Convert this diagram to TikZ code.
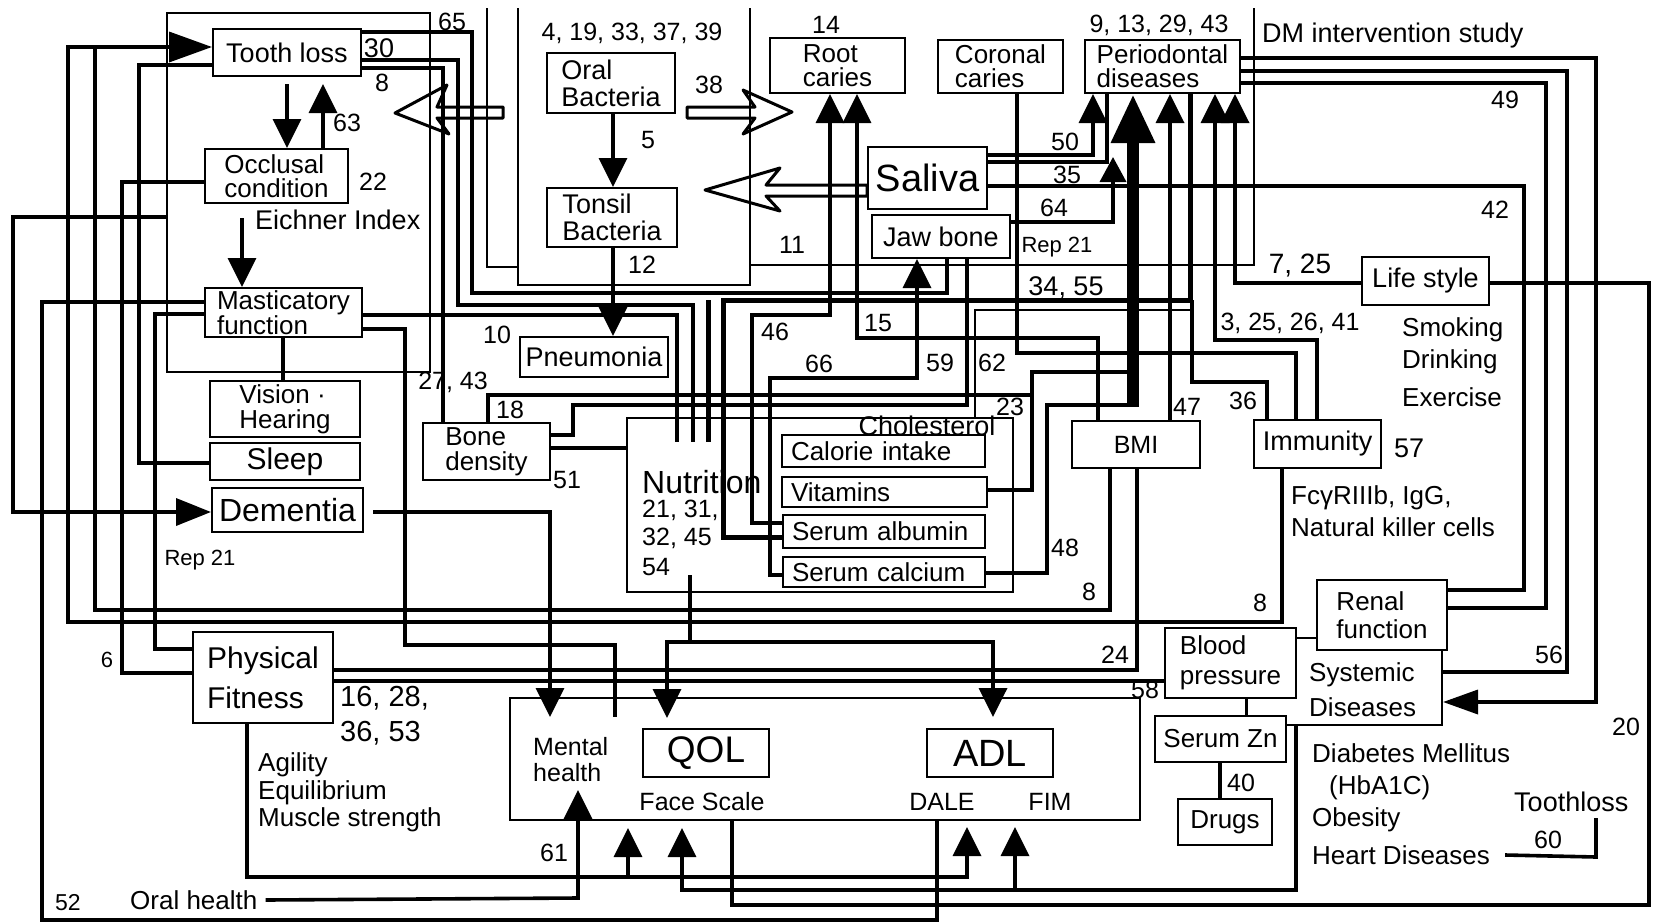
\documentclass[tikz,border=0pt]{standalone}
\usepackage{fontspec}
\setmainfont{Liberation Sans}
\usetikzlibrary{arrows.meta,calc}
\pgfdeclarelayer{bg}
\pgfdeclarelayer{paper}
\pgfsetlayers{paper,bg,main}
\begin{document}
\begin{tikzpicture}[x=1pt,y=-1pt,
  box/.style={draw,line width=2pt,fill=white,inner sep=0pt,align=left,font=\fontsize{26}{24}\selectfont},
  frame/.style={draw,line width=2pt,inner sep=0pt},
  cn/.style={line width=3.6pt},
  tn/.style={line width=2pt},
  arr/.style={-{Triangle[length=29pt,width=28pt]}},
  lab/.style={inner sep=0pt,font=\fontsize{25}{27}\selectfont},
  txt/.style={inner sep=0pt,anchor=west,align=left,font=\fontsize{26}{28}\selectfont},
  hollow/.style={line width=3pt,line join=round}
]
\begin{pgfonlayer}{paper}
\fill[white] (0,0) rectangle (1654,921);
\end{pgfonlayer}
\useasboundingbox (0,0) rectangle (1654,921);

% containers
\node[frame,minimum width=263pt,minimum height=359pt] (leftbox) at (298.5,192.5) {};
\node[frame,minimum width=386pt,minimum height=174pt] (nutri) at (820,505) {};
\node[frame,minimum width=630pt,minimum height=122pt] (qolbox) at (825,759) {};
\draw[tn] (518,8) -- (518,285) -- (750,285) -- (750,8);

% boxes
\node[box,minimum width=148pt,minimum height=47pt,font=\fontsize{27}{27}\selectfont] (tooth) at (287,52.5) {Tooth loss};
\node[box,minimum width=143pt,minimum height=54pt] (occl) at (276.5,176) {Occlusal\\condition};
\node[box,minimum width=157pt,minimum height=49pt,font=\fontsize{26}{24}\selectfont] (mast) at (283.5,312.5) {Masticatory\\function};
\node[box,minimum width=150pt,minimum height=56pt,font=\fontsize{26}{25}\selectfont] (vision) at (285,409) {Vision ·\\Hearing};
\node[box,minimum width=150pt,minimum height=37pt,font=\fontsize{30}{30}\selectfont] (sleep) at (285,461.5) {Sleep};
\node[box,minimum width=151pt,minimum height=44pt,font=\fontsize{32}{32}\selectfont] (dement) at (287.5,510) {Dementia};
\node[box,minimum width=128pt,minimum height=60pt,font=\fontsize{27}{27}\selectfont] (oralb) at (611,83) {Oral\\Bacteria};
\node[box,minimum width=130pt,minimum height=59pt,font=\fontsize{27}{27}\selectfont] (tonsil) at (612,217.5) {Tonsil\\Bacteria};
\node[box,minimum width=148pt,minimum height=40pt,font=\fontsize{27}{27}\selectfont] (pneu) at (594,357) {Pneumonia};
\node[box,minimum width=135pt,minimum height=55pt] (root) at (837.5,65.5) {Root\\caries};
\node[box,minimum width=125pt,minimum height=53pt] (coronal) at (1000.5,66.5) {Coronal\\caries};
\node[box,minimum width=155pt,minimum height=53pt] (perio) at (1162.5,66.5) {Periodontal\\diseases};
\node[box,minimum width=119pt,minimum height=62pt,font=\fontsize{38}{38}\selectfont] (saliva) at (927.5,178) {Saliva};
\node[box,minimum width=138pt,minimum height=43pt,font=\fontsize{27}{27}\selectfont] (jaw) at (941,236.5) {Jaw bone};
\node[box,minimum width=127pt,minimum height=48pt,font=\fontsize{27}{27}\selectfont] (life) at (1425.5,281) {Life style};
\node[box,minimum width=127pt,minimum height=57pt,font=\fontsize{26}{25}\selectfont] (bone) at (486.5,451.5) {Bone\\density};
\node[box,minimum width=203pt,minimum height=32pt,text width=185pt,font=\fontsize{26}{26}\selectfont] (cal) at (883.5,451) {Calorie intake};
\node[box,minimum width=205pt,minimum height=30pt,text width=187pt,font=\fontsize{26}{26}\selectfont] (vit) at (884.5,492) {Vitamins};
\node[box,minimum width=202pt,minimum height=33pt,text width=184pt,font=\fontsize{26}{26}\selectfont] (alb) at (884,531.5) {Serum albumin};
\node[box,minimum width=202pt,minimum height=30pt,text width=184pt,font=\fontsize{26}{26}\selectfont] (calc) at (884,572) {Serum calcium};
\node[box,minimum width=128pt,minimum height=47pt,font=\fontsize{25}{25}\selectfont] (bmi) at (1136,444.5) {BMI};
\node[box,minimum width=127pt,minimum height=48pt,font=\fontsize{27}{27}\selectfont] (immu) at (1317.5,444) {Immunity};
\node[box,minimum width=195pt,minimum height=87pt] (syst) at (1344.5,681.5) {};
\node[box,minimum width=130pt,minimum height=70pt,font=\fontsize{26}{28}\selectfont] (renal) at (1382,615) {Renal\\function};
\node[box,minimum width=131pt,minimum height=70pt,font=\fontsize{26}{30}\selectfont] (bp) at (1230.5,663) {Blood\\pressure};
\node[box,minimum width=131pt,minimum height=46pt,font=\fontsize{26}{26}\selectfont] (zn) at (1220.5,739) {Serum Zn};
\node[box,minimum width=94pt,minimum height=46pt,font=\fontsize{26}{26}\selectfont] (drugs) at (1225,822) {Drugs};
\node[box,minimum width=126pt,minimum height=48pt,font=\fontsize{37}{37}\selectfont] (qol) at (706,753) {QOL};
\node[box,minimum width=126pt,minimum height=48pt,font=\fontsize{38}{38}\selectfont] (adl) at (990,753) {ADL};
\node[box,minimum width=140pt,minimum height=91pt,font=\fontsize{30}{40}\selectfont] (pf) at (263,677.5) {Physical\\Fitness};

% texts
\node[txt,font=\fontsize{26}{35}\selectfont] (systtxt) at (1309,690) {Systemic\\Diseases};
\node[txt] (oralh) at (130,900) {Oral health};
\node[txt,font=\fontsize{27}{28}\selectfont] (eichner) at (255,220) {Eichner Index};
\node[txt,font=\fontsize{27}{28}\selectfont] (dm) at (1262,36) {DM intervention study};
\node[txt] (smok) at (1402,330) {Smoking};
\node[txt] (drin) at (1402,362) {Drinking};
\node[txt] (exer) at (1402,397) {Exercise};
\node[txt] (fcg) at (1291,498) {FcγRIIIb, IgG,};
\node[txt] (nkc) at (1291,527) {Natural killer cells};
\node[txt] (diab) at (1312,753) {Diabetes Mellitus};
\node[txt] (hba) at (1329,788) {(HbA1C)};
\node[txt] (obes) at (1312,820) {Obesity};
\node[txt] (heart) at (1312,855) {Heart Diseases};
\node[txt,font=\fontsize{27}{28}\selectfont] (tloss) at (1514,802) {Toothloss};
\node[txt] (agil) at (258,765) {Agility};
\node[txt] (equi) at (258,793) {Equilibrium};
\node[txt] (musc) at (258,820) {Muscle strength};
\node[txt,font=\fontsize{29}{30}\selectfont] (n16) at (340,698) {16, 28,};
\node[txt,font=\fontsize{29}{30}\selectfont] (n36) at (340,733) {36, 53};
\node[txt,font=\fontsize{32}{32}\selectfont] (nutrt) at (642,482) {Nutrition};
\node[txt,font=\fontsize{25}{27}\selectfont] (n21) at (642,510) {21, 31,};
\node[txt,font=\fontsize{25}{27}\selectfont] (n32) at (642,538) {32, 45};
\node[txt,font=\fontsize{25}{27}\selectfont] (n54) at (642,567) {54};
\node[lab,font=\fontsize{27}{27}\selectfont] (chol) at (927,426) {Cholesterol};
\node[txt,font=\fontsize{25}{26}\selectfont] (mental) at (533,760) {Mental\\health};
\node[lab] (face) at (702,802) {Face Scale};
\node[lab] (dale) at (942,802) {DALE};
\node[lab] (fim) at (1050,802) {FIM};
\node[lab,font=\fontsize{22}{24}\selectfont] (rep1) at (200,560) {Rep 21};
\node[lab,font=\fontsize{22}{24}\selectfont] (rep2) at (1057,247) {Rep 21};

% number labels
\node[lab,font=\fontsize{27}{27}\selectfont] (l30) at (379,48) {30};
\node[lab] (l8a) at (382,83) {8};
\node[lab] (l63) at (347,123) {63};
\node[lab] (l22) at (373,182) {22};
\node[lab] (l65) at (452,22) {65};
\node[lab] (l4) at (632,33) {4, 19, 33, 37, 39};
\node[lab] (l38) at (709,85) {38};
\node[lab] (l5) at (648,140) {5};
\node[lab] (l12) at (642,265) {12};
\node[lab] (l14) at (826,25) {14};
\node[lab] (l9) at (1159,25) {9, 13, 29, 43};
\node[lab] (l49) at (1505,100) {49};
\node[lab] (l42) at (1495,210) {42};
\node[lab,font=\fontsize{28}{28}\selectfont] (l725) at (1300,266) {7, 25};
\node[lab] (l50) at (1065,142) {50};
\node[lab] (l35) at (1067,175) {35};
\node[lab] (l64) at (1054,208) {64};
\node[lab,font=\fontsize{27}{27}\selectfont] (l34) at (1066,288) {34, 55};
\node[lab] (l11) at (792,245) {11};
\node[lab] (l10) at (497,335) {10};
\node[lab] (l27) at (453,382) {27, 43};
\node[lab] (l18) at (510,410) {18};
\node[lab] (l51) at (567,480) {51};
\node[lab] (l46) at (775,332) {46};
\node[lab] (l66) at (819,364) {66};
\node[lab] (l15) at (878,323) {15};
\node[lab] (l59) at (940,363) {59};
\node[lab] (l62) at (992,363) {62};
\node[lab] (l23) at (1010,407) {23};
\node[lab] (l47) at (1187,407) {47};
\node[lab] (l36) at (1243,401) {36};
\node[lab] (l3) at (1290,323) {3, 25, 26, 41};
\node[lab,font=\fontsize{27}{27}\selectfont] (l57) at (1409,448) {57};
\node[lab] (l48) at (1065,548) {48};
\node[lab] (l8b) at (1089,592) {8};
\node[lab] (l8c) at (1260,603) {8};
\node[lab] (l24) at (1115,655) {24};
\node[lab] (l58) at (1145,690) {58};
\node[lab] (l40) at (1241,783) {40};
\node[lab] (l56) at (1549,655) {56};
\node[lab] (l20) at (1626,727) {20};
\node[lab] (l60) at (1548,840) {60};
\node[lab] (l61) at (554,853) {61};
\node[lab,font=\fontsize{22}{24}\selectfont] (l6) at (107,660) {6};
\node[lab,font=\fontsize{23}{24}\selectfont] (l52) at (68,903) {52};

% hollow arrows
\draw[hollow] (395,113) -- (447,85) -- (437,107) -- (503,107) -- (503,118) -- (437,118) -- (449,134) -- cycle;
\draw[hollow] (687,107) -- (755,107) -- (743,90) -- (792,112) -- (743,134) -- (755,118) -- (687,118) -- cycle;
\draw[hollow] (705,190) -- (780,168) -- (766,185) -- (saliva.west |- 0,185) -- (saliva.west |- 0,196) -- (766,196) -- (780,211) -- cycle;

\begin{pgfonlayer}{bg}
\draw[cn,-{Triangle[length=35pt,width=27pt]}] (leftbox.west |- 0,217) -- (13,217) -- (13,512) -- (dement.west |- 0,512);
\draw[cn] (mast.west |- 0,302) -- (42,302) -- (42,920) -- (937,920) -- (937,0 |- qolbox.south);
\draw[cn,-{Triangle[length=43pt,width=30pt]}] (1282,0 |- immu.south) -- (1282,622) -- (68,622) -- (68,47) -- (tooth.west |- 0,47);
\draw[cn] (1110,0 |- bmi.south) -- (1110,610) -- (95,610) -- (95,47);
\draw[cn] (occl.west |- 0,182) -- (122,182) -- (122,673) -- (pf.west |- 0,673);
\draw[cn] (tooth.west |- 0,65) -- (139,65) -- (139,463) -- (sleep.west |- 0,463);
\draw[cn] (mast.west |- 0,314) -- (155,314) -- (155,649) -- (pf.west |- 0,649);
\draw[cn,arr] ($(287,0 |- tooth.south)+(0,7)$) -- (287,0 |- occl.north);
\draw[cn,arr] (323,0 |- occl.north) -- ($(323,0 |- tooth.south)+(0,7)$);
\coordinate (eich) at (242,218);
\draw[cn,arr] (eich) -- (242,0 |- mast.north);
\draw[cn] (283,0 |- mast.south) -- (283,0 |- vision.north);
\coordinate (mh1) at (615,717);
\draw[cn] (mast.east |- 0,329) -- (405,329) -- (405,645) -- (615,645) -- (mh1);
\draw[cn,arr] ($(dement.east |- 0,512)+(9,0)$) -- (550,512) -- (550,717);
\coordinate (nb) at (690,575);
\draw[cn] (nb) -- (690,642);
\draw[cn,arr] (690,642) -- (667,642) -- (667,718);
\draw[cn,arr] (690,642) -- (993,642) -- (993,717);
\draw[cn,arr] ([xshift=8pt]oralh.east) -- (578,898) -- (578,790);
\draw[cn,arr] (247,0 |- pf.south) -- (247,877) -- (967,877) -- (967,827);
\draw[cn,arr] (628,877) -- (628,828);
\draw[cn,arr] (1296,0 |- syst.south) -- (1296,890) -- (682,890) -- (682,828);
\draw[cn,arr] (1015,890) -- (1015,827);
\draw[cn] (life.east |- 0,283) -- (1649,283) -- (1649,905) -- (732,905) -- (732,0 |- qolbox.south);
\draw[cn,arr] (life.west |- 0,283) -- (1235,283) -- (1235,0 |- perio.south);
\draw[cn,-{Triangle[length=35pt,width=24pt]}] (perio.east |- 0,58) -- (1596,58) -- (1596,702) -- (syst.east |- 0,702);
\draw[cn] (perio.east |- 0,71) -- (1567,71) -- (1567,672) -- (syst.east |- 0,672);
\draw[cn] (perio.east |- 0,83) -- (1546,83) -- (1546,608) -- (renal.east |- 0,608);
\draw[cn] (saliva.east |- 0,186) -- (1524,186) -- (1524,590) -- (renal.east |- 0,590);
\draw[tn] (1254,8) -- (1254,265) -- (750,265);
\draw[cn,arr] (saliva.east |- 0,155) -- (1093,155) -- (1093,0 |- perio.south);
\draw[cn] (1107,0 |- perio.south) -- (1107,162) -- (saliva.east |- 0,162);
\draw[cn,-{Triangle[length=25pt,width=26pt]}] (jaw.east |- 0,222) -- (1113,222) -- (1113,157);
\draw[line width=12pt,-{Triangle[length=49pt,width=41pt]}] (1133,407) -- (1133,0 |- perio.south);
\draw[cn] (vit.east |- 0,490) -- (1032,490) -- (1032,372) -- (1133,372);
\draw[cn] (calc.east |- 0,573) -- (1047,573) -- (1047,405) -- (1133,405);
\draw[cn] (488,0 |- bone.north) -- (488,395) -- (1033,395);
\draw[cn] (bone.east |- 0,435) -- (573,435) -- (573,405) -- (967,405) -- (967,0 |- jaw.south);
\draw[cn] (tooth.east |- 0,32) -- (472,32) -- (472,293) -- (947,293) -- (947,0 |- jaw.south);
\draw[cn] (tooth.east |- 0,60) -- (458,60) -- (458,305) -- (693,305) -- (693,442);
\draw[cn] (tooth.east |- 0,68) -- (443,68) -- (443,0 |- bone.north);
\draw[cn] (mast.east |- 0,315) -- (677,315) -- (677,442);
\draw[line width=5pt] (1190,0 |- perio.south) -- (1190,300) -- (723,300) -- (723,537) -- (alb.west |- 0,537);
\draw[line width=5pt] (708,300) -- (708,442);
\draw[cn] (1192,300) -- (1192,382) -- (1267,382) -- (1267,0 |- immu.north);
\draw[cn,arr] (1317,0 |- immu.north) -- (1317,340) -- (1215,340) -- (1215,0 |- perio.south);
\draw[cn] (1017,0 |- coronal.south) -- (1017,353) -- (1296,353) -- (1296,0 |- immu.north);
\draw[cn,arr] (1170,0 |- bmi.north) -- (1170,0 |- perio.south);
\draw[cn,arr] (1098,0 |- bmi.north) -- (1098,338) -- (857,338) -- (857,0 |- root.south);
\draw[cn,arr] (alb.west |- 0,523) -- (752,523) -- (752,315) -- (830,315) -- (830,0 |- root.south);
\draw[cn,arr] (calc.west |- 0,575) -- (770,575) -- (770,378) -- (917,378) -- (917,0 |- jaw.south);
\draw[tn] (975,0 |- nutri.north) -- (975,310) -- (1190,310);
\draw[cn] (1137,0 |- bmi.south) -- (1137,670) -- (pf.east |- 0,670);
\draw[cn] (pf.east |- 0,681) -- (bp.west |- 0,681);
\draw[cn] (bone.east |- 0,448) -- (nutri.west |- 0,448);
\draw[cn,arr] (613,0 |- tonsil.south) -- (613,0 |- pneu.north);
\draw[cn,arr] (613,0 |- oralb.south) -- (613,0 |- tonsil.north);
\draw[tn] (487,8) -- (487,267) -- (518,267);
\draw[cn] (1247,0 |- bp.south) -- (1247,0 |- zn.north);
\draw[cn] (1220,0 |- zn.south) -- (1220,0 |- drugs.north);
\draw[cn] ([xshift=15pt]heart.east) -- (1596,857) -- (1596,818);
\end{pgfonlayer}
\end{tikzpicture}
\end{document}
